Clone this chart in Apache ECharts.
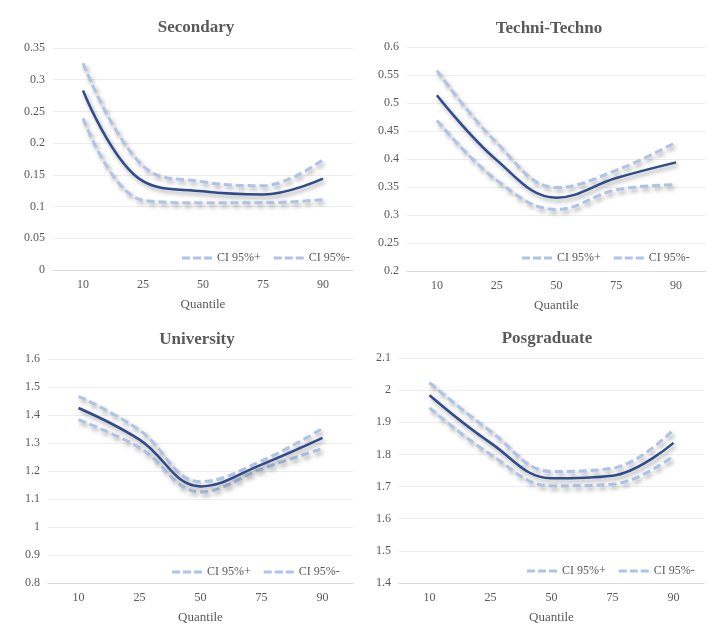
<!DOCTYPE html>
<html><head><meta charset="utf-8">
<script src="https://cdn.jsdelivr.net/npm/echarts@6/dist/echarts.min.js"></script>
<style>html,body{margin:0;padding:0;background:#fff}#c{width:728px;height:635px}</style>
</head><body><div id="c"></div>
<script>
var quantiles = ['10', '25', '50', '75', '90'];
var panelTitles = ['Secondary', 'Techni-Techno', 'University', 'Posgraduate'];

var secondaryEst = [0.283, 0.140, 0.124, 0.119, 0.144];
var secondaryUp  = [0.326, 0.164, 0.139, 0.133, 0.174];
var secondaryLo  = [0.239, 0.110, 0.106, 0.106, 0.111];

var techniEst = [0.514, 0.398, 0.331, 0.366, 0.394];
var techniUp  = [0.558, 0.429, 0.349, 0.380, 0.430];
var techniLo  = [0.469, 0.362, 0.310, 0.345, 0.354];

var universityEst = [1.425, 1.312, 1.145, 1.223, 1.318];
var universityUp  = [1.467, 1.346, 1.162, 1.236, 1.352];
var universityLo  = [1.383, 1.283, 1.125, 1.207, 1.280];

var posgradEst = [1.984, 1.836, 1.726, 1.734, 1.836];
var posgradUp  = [2.023, 1.872, 1.747, 1.757, 1.877];
var posgradLo  = [1.945, 1.800, 1.702, 1.707, 1.795];

var yMins = [0, 0.2, 0.8, 1.4];
var yMaxs = [0.35, 0.6, 1.6, 2.1];
var yIntervals = [0.05, 0.05, 0.1, 0.1];

var panels = [
  [secondaryEst, secondaryUp, secondaryLo],
  [techniEst, techniUp, techniLo],
  [universityEst, universityUp, universityLo],
  [posgradEst, posgradUp, posgradLo]
];

var FONT = 'Liberation Serif';
var TXT = '#595959';
var CI_COLOR = '#aec3e6';
var EST_COLOR = '#2f4b8c';
var grids = [
  {left: 53, top: 48, width: 300, height: 222},
  {left: 407, top: 47, width: 299, height: 224},
  {left: 48, top: 359, width: 305, height: 224},
  {left: 399, top: 358, width: 305, height: 225}
];
var titlePos = [[191, 14], [544, 15], [192, 326], [542, 325]];
var legendPos = [[182, 252], [522, 252], [172, 566], [527, 565]];

var shadow = {shadowColor: 'rgba(0,0,0,0.35)', shadowBlur: 4, shadowOffsetX: 2, shadowOffsetY: 3};
var dashIcon = 'path://M0,0h8v3h-8z M11,0h8v3h-8z M22,0h8v3h-8z';

var option = {
  backgroundColor: '#fff',
  animation: false,
  title: [], grid: [], xAxis: [], yAxis: [], legend: [], series: []
};

for (var i = 0; i < 4; i++) {
  option.title.push({
    text: panelTitles[i], left: titlePos[i][0], top: titlePos[i][1], textAlign: 'center',
    textStyle: {fontFamily: FONT, fontWeight: 'bold', fontSize: 17, color: TXT}
  });
  option.grid.push(Object.assign({containLabel: false}, grids[i]));
  option.xAxis.push({
    type: 'category', gridIndex: i, data: quantiles, boundaryGap: true,
    name: 'Quantile', nameLocation: 'middle', nameGap: 28,
    nameTextStyle: {fontFamily: FONT, fontSize: 13, color: TXT},
    axisLine: {lineStyle: {color: '#d9d9d9'}}, axisTick: {show: false},
    axisLabel: {fontFamily: FONT, fontSize: 12, color: TXT, margin: 9}
  });
  option.yAxis.push({
    type: 'value', gridIndex: i, min: yMins[i], max: yMaxs[i], interval: yIntervals[i],
    axisLine: {show: false}, axisTick: {show: false},
    axisLabel: {fontFamily: FONT, fontSize: 12, color: TXT, margin: 8},
    splitLine: {lineStyle: {color: '#ededed'}}
  });
  option.legend.push({
    data: ['CI 95%+', 'CI 95%-'], left: legendPos[i][0], top: legendPos[i][1],
    padding: 0,
    icon: dashIcon, itemWidth: 30, itemHeight: 3, itemGap: 13,
    itemStyle: {color: CI_COLOR},
    textStyle: {fontFamily: FONT, fontSize: 12, color: TXT}
  });
  var d = panels[i];
  option.series.push({
    name: 'CI 95%+', type: 'line', xAxisIndex: i, yAxisIndex: i, data: d[1],
    smooth: 0.4, symbol: 'none', color: CI_COLOR,
    lineStyle: Object.assign({color: CI_COLOR, width: 3, type: [8, 4]}, shadow)
  });
  option.series.push({
    name: 'CI 95%-', type: 'line', xAxisIndex: i, yAxisIndex: i, data: d[2],
    smooth: 0.4, symbol: 'none', color: CI_COLOR,
    lineStyle: Object.assign({color: CI_COLOR, width: 3, type: [8, 4]}, shadow)
  });
  option.series.push({
    name: 'Estimate', type: 'line', xAxisIndex: i, yAxisIndex: i, data: d[0],
    smooth: 0.4, symbol: 'none', color: EST_COLOR,
    lineStyle: Object.assign({color: EST_COLOR, width: 2.5}, shadow)
  });
}

var chart = echarts.init(document.getElementById('c'));
chart.setOption(option);
</script>
</body></html>
